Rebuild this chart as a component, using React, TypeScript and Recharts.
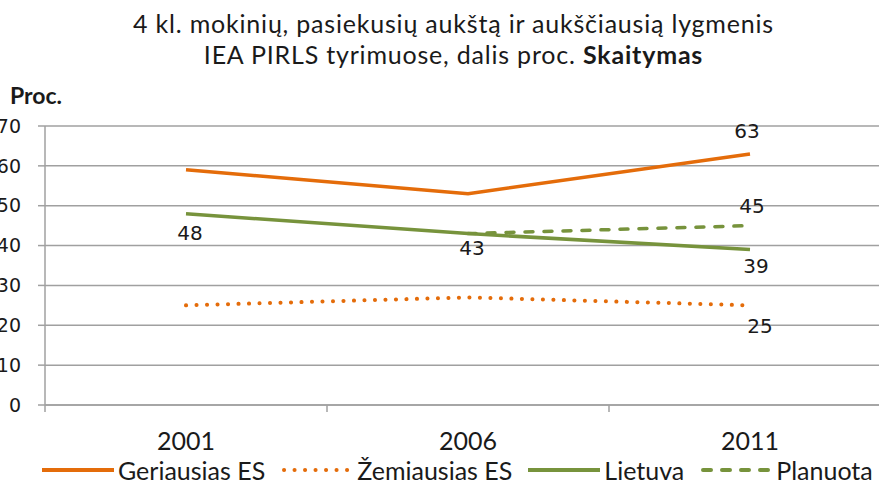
import React from 'react';
import { LineChart, Line, XAxis, YAxis, CartesianGrid, Legend, LabelList } from 'recharts';

const years = ['2001', '2006', '2011'];
const geriausias = [59, 53, 63];
const zemiausias = [25, 27, 25];
const lietuva = [48, 43, 39];
const planuota = [null, 43, 45];
const yTicks = [0, 10, 20, 30, 40, 50, 60, 70];

const data = years.map((year, i) => ({
  year,
  geriausias: geriausias[i],
  zemiausias: zemiausias[i],
  lietuva: lietuva[i],
  planuota: planuota[i],
}));

const ORANGE = '#e46c0a';
const GREEN = '#77933c';
const GRID = '#a0a0a0';
const SANS = 'Lato, "Open Sans", sans-serif';
const VERDANA = '"DejaVu Sans", Verdana, sans-serif';
const DOTS = '0.1 10.4';

const series = [
  { key: 'geriausias', name: 'Geriausias ES', color: ORANGE, dash: undefined as string | undefined },
  { key: 'zemiausias', name: 'Žemiausias ES', color: ORANGE, dash: DOTS },
  { key: 'lietuva', name: 'Lietuva', color: GREEN, dash: undefined },
  { key: 'planuota', name: 'Planuota', color: GREEN, dash: '8 11' },
];

// which points get a value label, and where it sits relative to the point
const labelSpots: Record<string, Record<number, [number, number]>> = {
  geriausias: { 2: [-3, -23] },
  zemiausias: { 2: [10, 21] },
  lietuva: { 0: [4, 19], 1: [4, 14], 2: [6, 16] },
  planuota: { 2: [2, -20] },
};

const makeLabel = (key: string) => (props: any) => {
  const { x, y, value, index } = props;
  const spot = labelSpots[key][index];
  if (!spot || value == null) return null;
  return (
    <text
      x={x + spot[0]}
      y={y + spot[1]}
      textAnchor="middle"
      dominantBaseline="central"
      fontFamily={VERDANA}
      fontSize={20}
      fill="#1a1a1a"
    >
      {value}
    </text>
  );
};

const YearTick = (props: any) => {
  const { x, y, payload, index, visibleTicksCount } = props;
  const half = payload && payload.offset ? payload.offset : 0;
  const last = index === (visibleTicksCount ?? years.length) - 1;
  return (
    <g>
      {half > 0 && <line x1={x - half} x2={x - half} y1={y} y2={y + 7} stroke={GRID} strokeWidth={1.5} />}
      {half > 0 && last && <line x1={x + half} x2={x + half} y1={y} y2={y + 7} stroke={GRID} strokeWidth={1.5} />}
      <text x={x} y={y + 45} textAnchor="middle" fontFamily={SANS} fontSize={25} fill="#1a1a1a">
        {payload.value}
      </text>
    </g>
  );
};

const LegendContent = () => (
  <div style={{ display: 'flex', alignItems: 'center', paddingLeft: 42, paddingTop: 10, height: 29, whiteSpace: 'nowrap' }}>
    {series.map((s) => (
      <div key={s.key} style={{ display: 'flex', alignItems: 'center', marginRight: 16 }}>
        <svg width={72} height={10}>
          <line
            x1={s.dash ? 3 : 0}
            x2={s.dash ? 70 : 72}
            y1={5}
            y2={5}
            stroke={s.color}
            strokeWidth={4}
            strokeDasharray={s.dash}
            strokeLinecap={s.dash ? 'round' : 'butt'}
          />
        </svg>
        <span style={{ fontFamily: SANS, fontSize: 25, color: '#1a1a1a', marginLeft: 4 }}>{s.name}</span>
      </div>
    ))}
  </div>
);

export default function App() {
  return (
    <div style={{ position: 'absolute', left: 0, top: 0, width: 879, height: 484, overflow: 'hidden', background: '#fff' }}>
      <div
        style={{
          position: 'absolute',
          top: 8,
          left: 14,
          width: 879,
          textAlign: 'center',
          fontFamily: SANS,
          fontSize: 25,
          letterSpacing: 0.8,
          lineHeight: '31px',
          color: '#1a1a1a',
        }}
      >
        <div>4 kl. mokinių,  pasiekusių aukštą ir aukščiausią lygmenis</div>
        <div>
          IEA PIRLS tyrimuose, dalis proc. <b>Skaitymas</b>
        </div>
      </div>
      <div
        style={{
          position: 'absolute',
          top: 81,
          left: 10,
          fontFamily: SANS,
          fontWeight: 'bold',
          fontSize: 23,
          color: '#1a1a1a',
        }}
      >
        Proc.
      </div>
      <div style={{ position: 'absolute', left: 0, top: 0 }}>
        <LineChart width={900} height={484} data={data} margin={{ top: 126, right: 9, left: 0, bottom: 0 }}>
          <CartesianGrid vertical={false} stroke={GRID} strokeWidth={1.5} />
          <XAxis
            dataKey="year"
            scale="band"
            height={40}
            axisLine={{ stroke: GRID, strokeWidth: 1.5 }}
            tickLine={false}
            tickSize={0}
            tickMargin={0}
            tick={<YearTick />}
            interval={0}
          />
          <YAxis
            width={45}
            domain={[0, 70]}
            ticks={yTicks}
            interval={0}
            axisLine={{ stroke: GRID, strokeWidth: 1.5 }}
            tickLine={{ stroke: GRID, strokeWidth: 1.5 }}
            tickSize={7}
            tickMargin={17}
            tick={{ fontFamily: VERDANA, fontSize: 19, fill: '#1a1a1a' }}
          />
          <Legend verticalAlign="bottom" height={39} content={<LegendContent />} />
          {series.map((s) => (
            <Line
              key={s.key}
              dataKey={s.key}
              name={s.name}
              type="linear"
              stroke={s.color}
              strokeWidth={s.dash === DOTS ? 4 : 3.5}
              strokeDasharray={s.dash}
              strokeLinecap={s.dash ? 'round' : 'butt'}
              dot={false}
              activeDot={false}
              connectNulls={false}
              isAnimationActive={false}
            >
              <LabelList dataKey={s.key} content={makeLabel(s.key)} />
            </Line>
          ))}
        </LineChart>
      </div>
    </div>
  );
}
